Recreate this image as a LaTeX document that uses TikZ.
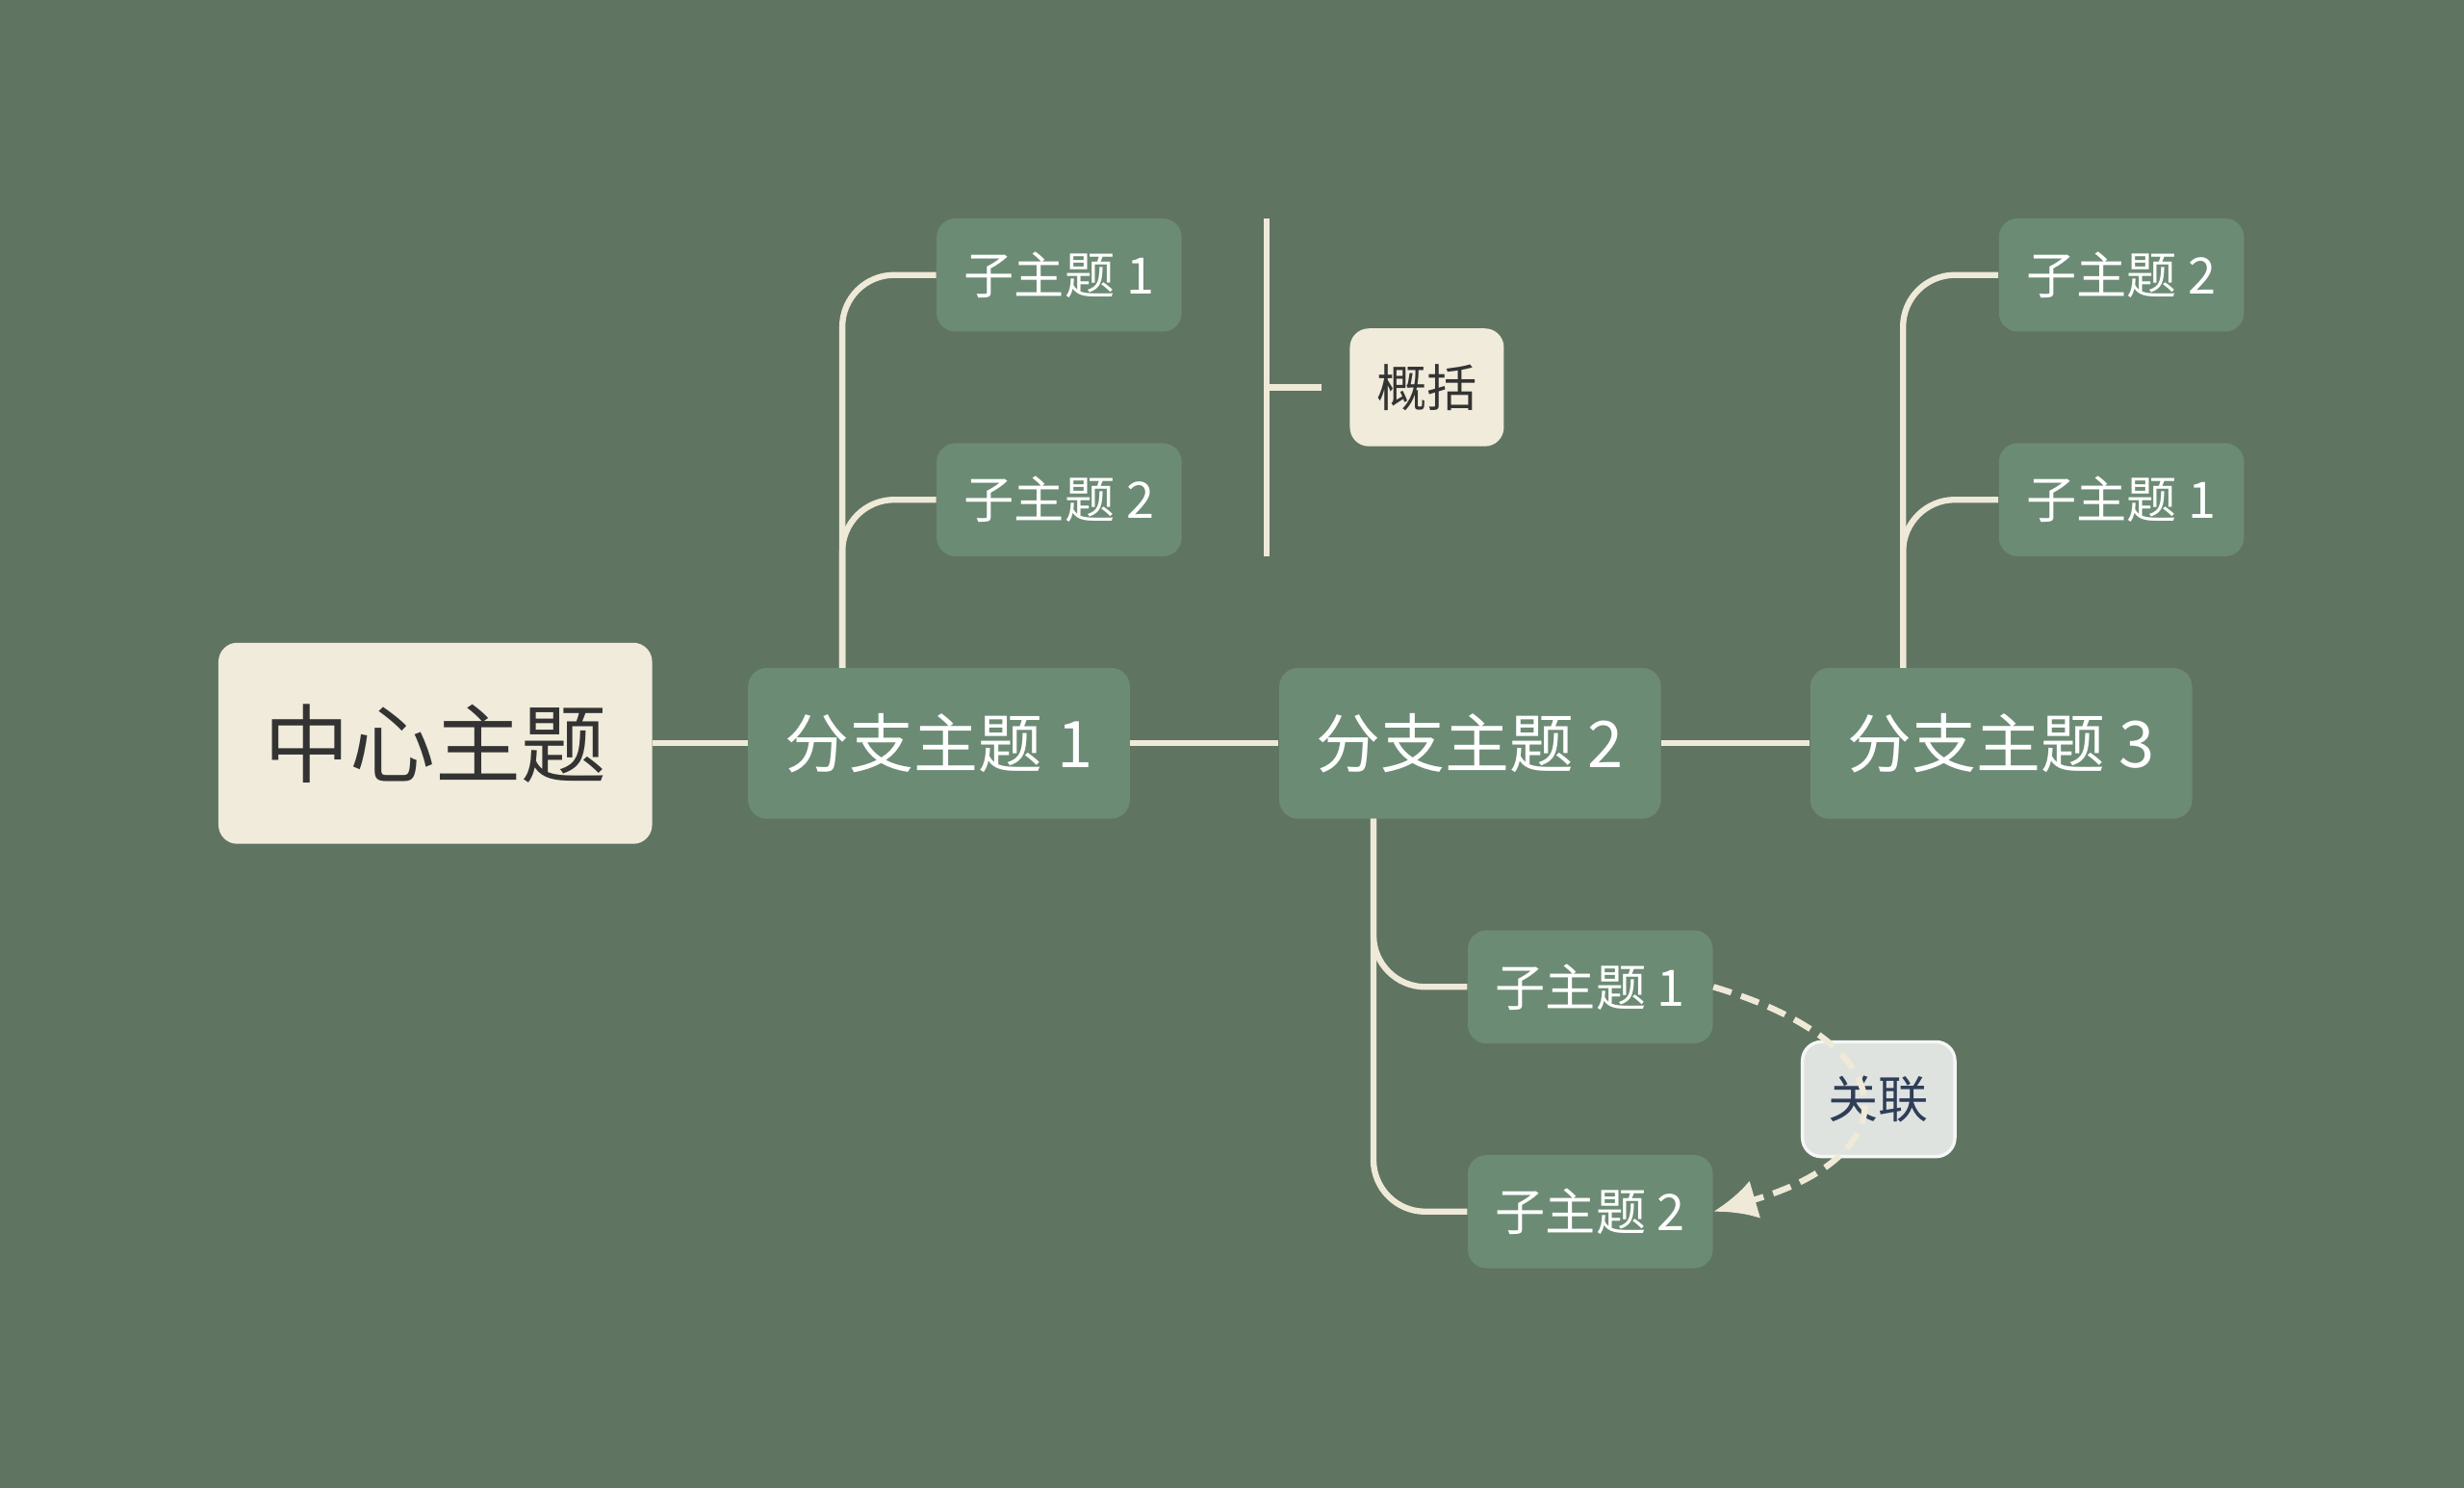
\documentclass[tikz,border=0pt]{standalone}
\usepackage{fontspec}
\setmainfont{Noto Sans CJK SC}
\usetikzlibrary{shapes,arrows.meta}
\definecolor{bgcol}{HTML}{607462}
\definecolor{boxcol}{HTML}{6C8B74}
\definecolor{cream}{HTML}{F0EBDA}
\definecolor{linecol}{HTML}{EFE9D8}
\definecolor{relfill}{HTML}{DFE3E0}
\definecolor{reltext}{HTML}{2F3E58}
\definecolor{darktext}{HTML}{333333}
\tikzstyle{topic} = [fill=cream, text=darktext, rectangle, rounded corners=0.24cm,
    minimum height=2.56cm, minimum width=5.52cm, inner sep=0pt,
    font=\fontsize{31}{31}\selectfont]
\tikzstyle{branch} = [fill=boxcol, text=white, rectangle, rounded corners=0.24cm,
    minimum height=1.92cm, minimum width=4.86cm, inner sep=0pt,
    font=\fontsize{23.3}{23.3}\selectfont]
\tikzstyle{sub} = [fill=boxcol, text=white, rectangle, rounded corners=0.24cm,
    minimum height=1.44cm, minimum width=3.12cm, inner sep=0pt,
    font=\fontsize{18.2}{18.2}\selectfont]
\tikzstyle{note} = [fill=cream, text=darktext, rectangle, rounded corners=0.24cm,
    minimum height=1.5cm, minimum width=1.96cm, inner sep=0pt,
    font=\fontsize{18.2}{18.2}\selectfont]
\tikzstyle{rel} = [fill=relfill, draw=white!70!relfill, line width=1.2pt, text=reltext,
    rectangle, rounded corners=0.24cm, minimum height=1.46cm, minimum width=1.94cm,
    inner sep=0pt, font=\fontsize{18.2}{18.2}\selectfont]
\tikzstyle{link} = [draw=linecol, line width=2.2pt]

\begin{document}
\begin{tikzpicture}[x=0.02cm, y=-0.02cm]
\fill[bgcol] (0,0) rectangle (1568,947);

\node[topic, name=main] at (277,473) {中心主题};
\node[branch, name=b1] at (597.5,473) {分支主题 1};
\node[branch, name=b2] at (935.5,473) {分支主题 2};
\node[branch, name=b3] at (1273.5,473) {分支主题 3};

\node[sub, name=s11] at (674,175) {子主题 1};
\node[sub, name=s12] at (674,318) {子主题 2};
\node[sub, name=s21] at (1012,628) {子主题 1};
\node[sub, name=s22] at (1012,771) {子主题 2};
\node[sub, name=s32] at (1350,175) {子主题 2};
\node[sub, name=s31] at (1350,318) {子主题 1};

\node[note, name=sum] at (908,246.5) {概括};

\coordinate (j1) at (536,425);
\coordinate (j2) at (874,521);
\coordinate (j3) at (1211,425);
\coordinate (sumtop) at (806,139);
\coordinate (sumbot) at (806,354);
\coordinate (summid) at (806,246.5);

\draw[link] (main) -- (b1);
\draw[link] (b1) -- (b2);
\draw[link] (b2) -- (b3);

\draw[link, rounded corners=0.66cm] (j1) |- (s11.west);
\draw[link, rounded corners=0.66cm] (j1) |- (s12.west);
\draw[link, rounded corners=0.66cm] (j2) |- (s21.west);
\draw[link, rounded corners=0.66cm] (j2) |- (s22.west);
\draw[link, rounded corners=0.66cm] (j3) |- (s32.west);
\draw[link, rounded corners=0.66cm] (j3) |- (s31.west);

% summary bracket
\draw[link] (sumtop) -- (sumbot);
\draw[link] (summid) -- ++(35,0);

% relation
\node[rel, name=rel] at (1195.5,699.5) {关联};
\draw[link, dash pattern=on 0.24cm off 0.13cm, -{Latex[length=0.55cm, width=0.5cm]}]
  (s21.east) .. controls +(124,37) and +(124,-36) .. (s22.east);

\end{tikzpicture}
\end{document}
